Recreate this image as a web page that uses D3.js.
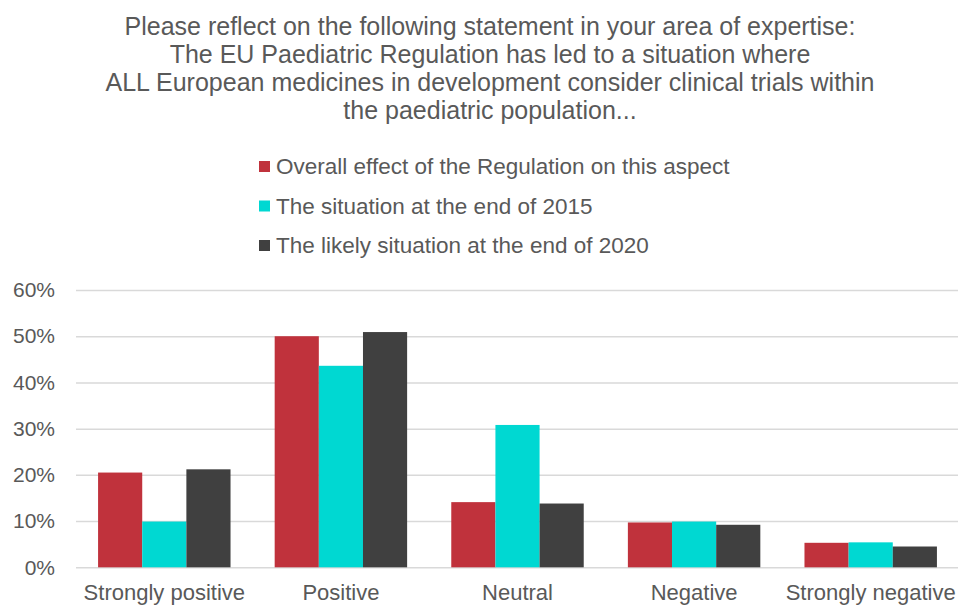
<!DOCTYPE html>
<html><head><meta charset="utf-8">
<script src="https://cdn.jsdelivr.net/npm/d3@7"></script>
<style>body{margin:0;background:#fff}svg{display:block}</style>
</head><body>
<script>
const titleLines = ["Please reflect on the following statement in your area of expertise:",
  "The EU Paediatric Regulation has led to a situation where",
  "ALL European medicines in development consider clinical trials within",
  "the paediatric population..."];
const categories = ["Strongly positive","Positive","Neutral","Negative","Strongly negative"];
const seriesNames = ["Overall effect of the Regulation on this aspect","The situation at the end of 2015","The likely situation at the end of 2020"];
const overall = [20.5, 50.0, 14.1, 9.7, 5.3];
const end2015 = [9.9, 43.6, 30.8, 9.9, 5.4];
const end2020 = [21.2, 50.9, 13.8, 9.2, 4.5];
const yTicks = [0,10,20,30,40,50,60];
const colors = ["#C0323C","#00D8D2","#404040"];
const seriesValues = [overall, end2015, end2020];

const W=958,H=606;
const svg=d3.select("body").append("svg").attr("width",W).attr("height",H);
const font="'Liberation Sans', Arial, sans-serif";
const txt="#595959";

svg.append("g").selectAll("text").data(titleLines).join("text")
  .attr("x",490).attr("y",(d,i)=>35+i*28).attr("text-anchor","middle")
  .attr("font-family",font).attr("font-size",25).attr("fill",txt).text(d=>d);

const lg=svg.append("g").selectAll("g").data(seriesNames).join("g")
  .attr("transform",(d,i)=>`translate(259,${166+i*39.5})`);
lg.append("rect").attr("x",0).attr("y",-5).attr("width",11).attr("height",11).attr("fill",(d,i)=>colors[i]);
lg.append("text").attr("x",17).attr("y",8).attr("font-family",font).attr("font-size",22.5).attr("fill",txt).text(d=>d);

const x0=d3.scaleBand().domain(categories).range([76,959]).paddingInner(0.25).paddingOuter(0.125);
const x1=d3.scaleBand().domain(d3.range(3)).range([0,x0.bandwidth()]);
const y=d3.scaleLinear().domain([0,60]).range([567.3,290]);

const yAxis=svg.append("g").attr("transform","translate(76,0)")
  .call(d3.axisLeft(y).tickValues(yTicks).tickSize(-883).tickFormat(d=>d+"%"));
yAxis.select(".domain").remove();
yAxis.selectAll(".tick line").attr("stroke","#d9d9d9").attr("stroke-width",1.5);
yAxis.selectAll(".tick text").attr("x",-21).attr("font-family",font).attr("font-size",21).attr("fill",txt);

const g=svg.append("g").selectAll("g").data(categories).join("g")
  .attr("transform",d=>`translate(${x0(d)},0)`);
g.selectAll("rect").data((d,ci)=>seriesValues.map((s,si)=>({si,v:s[ci]}))).join("rect")
  .attr("x",d=>x1(d.si)).attr("width",x1.bandwidth())
  .attr("y",d=>y(d.v)).attr("height",d=>y(0)-y(d.v)).attr("fill",d=>colors[d.si]);

const xAxis=svg.append("g").attr("transform","translate(0,567.3)")
  .call(d3.axisBottom(x0).tickSize(0));
xAxis.select(".domain").remove();
xAxis.selectAll(".tick text").attr("dy",0).attr("y",33).attr("font-family",font).attr("font-size",22).attr("fill",txt);
</script>
</body></html>
